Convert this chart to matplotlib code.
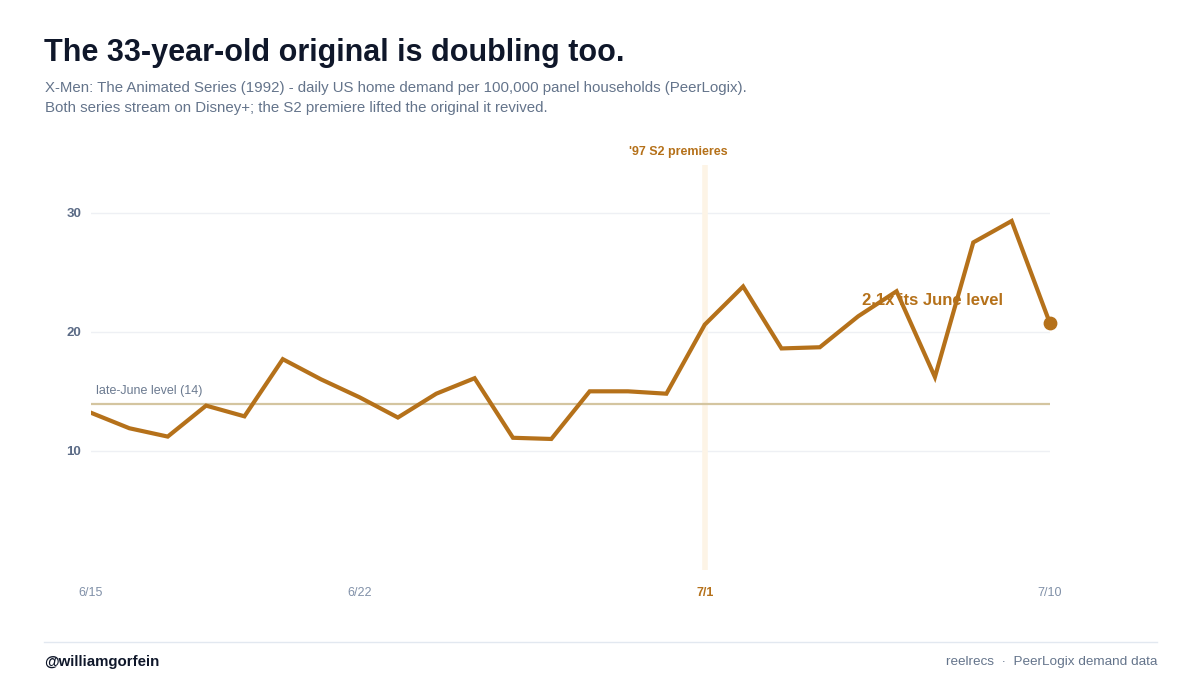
import matplotlib
matplotlib.use("Agg")
import matplotlib.pyplot as plt

plt.rcParams['font.family'] = ['Liberation Sans', 'DejaVu Sans']

dates = ["6/15", "6/16", "6/17", "6/18", "6/19", "6/20", "6/21", "6/22", "6/23", "6/24",
         "6/25", "6/26", "6/27", "6/28", "6/29", "6/30", "7/1", "7/2", "7/3", "7/4",
         "7/5", "7/6", "7/7", "7/8", "7/9", "7/10"]
demand = [13.2, 11.9, 11.2, 13.8, 12.9, 17.7, 16.0, 14.5, 12.8, 14.8,
          16.1, 11.1, 11.0, 15.0, 15.0, 14.8, 20.6, 23.8, 18.6, 18.7,
          21.3, 23.4, 16.2, 27.5, 29.3, 20.7]
june_level = 13.9
premiere_date = "7/1"
tick_dates = ["6/15", "6/22", "7/1", "7/10"]
y_ticks = [10, 20, 30]

AMBER = "#b5711a"
GRAY = "#64748b"
DARK = "#0f172a"

fig = plt.figure(figsize=(12, 6.75), dpi=100)
ax = fig.add_axes([91/1200, 1-570/675, (1050-91)/1200, (570-165)/675])

x = list(range(len(dates)))
ax.set_xlim(0, len(dates)-1)
ax.set_ylim(0, 34)

for yt in y_ticks:
    ax.axhline(yt, color="#eef0f4", lw=1, zorder=0)

px = dates.index(premiere_date)
ax.axvline(px, color="#fdf4e6", lw=4, zorder=1)
ax.axhline(june_level, color="#d4c5a0", lw=1.6, zorder=2)

ax.plot(x, demand, color=AMBER, lw=3.0, solid_joinstyle="miter", zorder=3)
ax.scatter([x[-1]], [demand[-1]], s=80, color=AMBER, zorder=4, clip_on=False)

for s in ax.spines.values():
    s.set_visible(False)
ax.tick_params(length=0)
ax.set_yticks(y_ticks)
ax.set_yticklabels([str(v) for v in y_ticks], fontsize=9.5, fontweight="bold", color="#5a6a85")
ax.tick_params(axis="y", pad=7)
ax.set_xticks([dates.index(d) for d in tick_dates])
ax.set_xticklabels(tick_dates, fontsize=9, color="#8090a8")
ax.tick_params(axis="x", pad=12)
for lab in ax.get_xticklabels():
    if lab.get_text() == premiere_date:
        lab.set_color(AMBER)
        lab.set_fontweight("bold")

ax.text(0.12, june_level + 0.6, f"late-June level ({round(june_level)})", fontsize=9,
        color="#6b7a90", ha="left", va="bottom")
ax.text(px - 0.7, 34.55, "'97 S2 premieres", fontsize=9, fontweight="bold", color=AMBER,
        ha="center", va="bottom", clip_on=False)
ax.text(20.1, 22.6, "2.1x its June level", fontsize=12, fontweight="bold", color=AMBER,
        ha="left", va="center")

fig.text(44/1200, 1-53/675, "The 33-year-old original is doubling too.", fontsize=22,
         fontweight="bold", color=DARK, ha="left", va="center")
fig.text(45/1200, 1-88/675,
         "X-Men: The Animated Series (1992) - daily US home demand per 100,000 panel households (PeerLogix).",
         fontsize=10.85, color=GRAY, ha="left", va="center")
fig.text(45/1200, 1-108/675,
         "Both series stream on Disney+; the S2 premiere lifted the original it revived.",
         fontsize=10.85, color=GRAY, ha="left", va="center")

fig.add_artist(plt.Line2D([44/1200, 1157/1200], [1-642/675, 1-642/675], color="#e2e8f0", lw=1))
fig.text(44/1200, 1-662/675, "@williamgorfein", fontsize=10.8, fontweight="bold", color=DARK,
         ha="left", va="center")
fig.text(1157/1200, 1-662/675, "reelrecs  ·  PeerLogix demand data", fontsize=9.7, color=GRAY,
         ha="right", va="center")

fig.savefig("out.png", dpi=100, facecolor="white")
